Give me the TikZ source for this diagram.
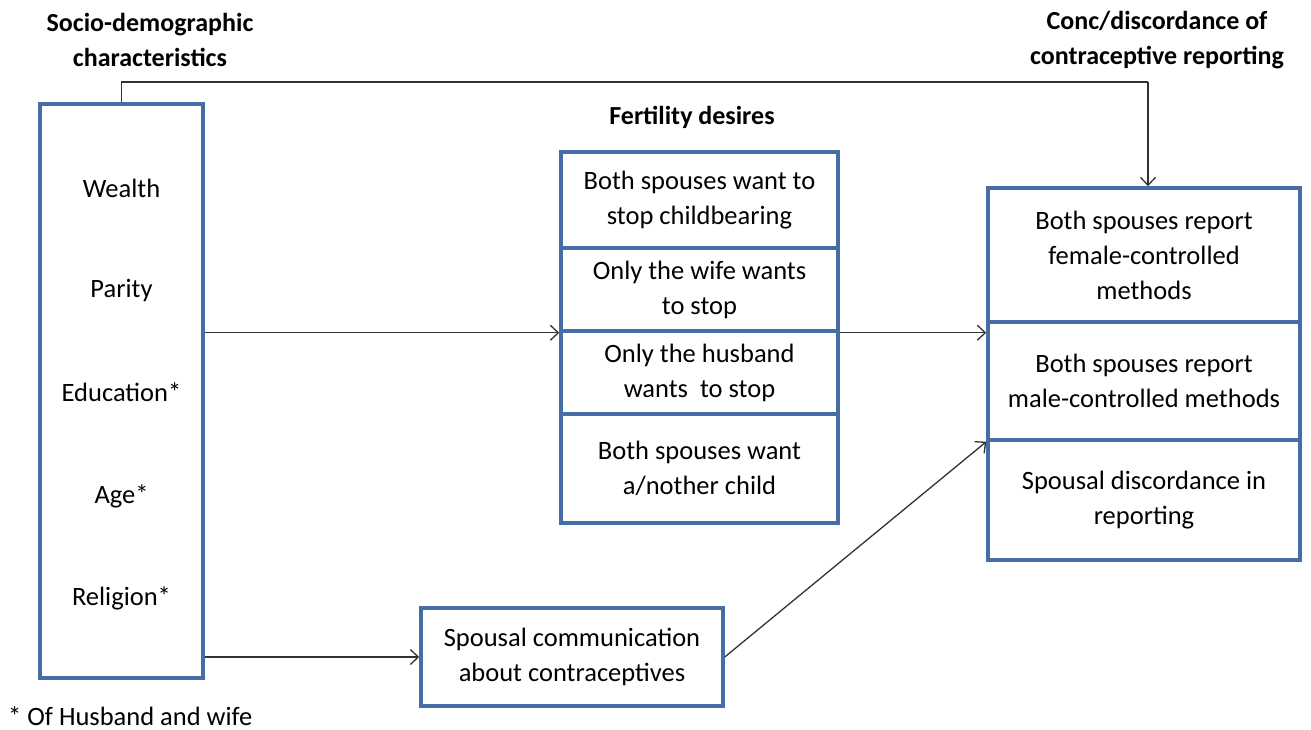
\documentclass[tikz,border=0pt]{standalone}
\usepackage{fontspec}
\setmainfont{Carlito}
\usetikzlibrary{arrows.meta}
\definecolor{boxblue}{RGB}{70,110,165}
\definecolor{linegray}{RGB}{50,50,50}
\begin{document}
\begin{tikzpicture}[x=1pt,y=-1pt,
  box/.style={draw=boxblue,line width=3.5pt,inner sep=0pt,align=center,font=\fontsize{26.5}{35}\selectfont},
  lbl/.style={inner sep=0pt,align=center,font=\fontsize{26.5}{35}\selectfont},
  ttl/.style={inner sep=0pt,align=center,font=\bfseries\fontsize{26}{35}\selectfont},
  arr/.style={draw=linegray,line width=1.3pt,-{Straight Barb[length=8pt,width=15pt,line width=1.3pt]}},
  ln/.style={draw=linegray,line width=1.3pt}]
\useasboundingbox (0,0) rectangle (1311,730);
% titles
\node[ttl] (t1) at (150,40) {Socio-demographic\\characteristics};
\node[ttl] (t2) at (1157,40) {Conc/discordance of\\contraceptive reporting};
\node[ttl] (t3) at (692,117) {Fertility desires};
% left box
\node[box,minimum width=163pt,minimum height=574pt] (soc) at (121.5,391) {};
\node[lbl] (w) at (121.5,188) {Wealth};
\node[lbl] (p) at (121.5,291) {Parity};
\node[lbl] (e) at (121.5,392) {Education*};
\node[lbl] (a) at (121.5,496) {Age*};
\node[lbl] (r) at (121.5,598) {Religion*};
\node[lbl,anchor=west] (fn) at (8,716) {* Of Husband and wife};
% fertility boxes
\node[box,minimum width=277pt,minimum height=96pt] (f1) at (699.5,200) {Both spouses want to\\stop childbearing};
\node[box,minimum width=277pt,minimum height=83pt] (f2) at (699.5,289.5) {Only the wife wants\\to stop};
\node[box,minimum width=277pt,minimum height=83pt] (f3) at (699.5,372.5) {Only the husband\\wants\ \ to stop};
\node[box,minimum width=277pt,minimum height=109pt] (f4) at (699.5,468.5) {Both spouses want\\a/nother child};
% right boxes
\node[box,minimum width=312pt,minimum height=134pt] (r1) at (1144,255) {Both spouses report\\female-controlled\\methods};
\node[box,minimum width=312pt,minimum height=118pt] (r2) at (1144,381) {Both spouses report\\male-controlled methods};
\node[box,minimum width=312pt,minimum height=120pt] (r3) at (1144,500) {Spousal discordance in\\reporting};
% communication
\node[box,minimum width=302pt,minimum height=98pt] (c) at (572,657) {Spousal communication\\about contraceptives};
% connectors
\coordinate (tl) at (121.5,82);
\coordinate (tr) at (1148,82);
\draw[ln] (soc.north) -- (tl) -- (tr);
\draw[arr] (tr) -- (tr |- r1.north);
\draw[arr] (soc.east |- f2.south) -- (f2.south west);
\draw[arr] (f2.south east) -- (r1.west |- f2.south);
\draw[arr] (soc.east |- c.west) -- (c.west);
\draw[arr] (c.east) -- (r2.south west);
\end{tikzpicture}
\end{document}
